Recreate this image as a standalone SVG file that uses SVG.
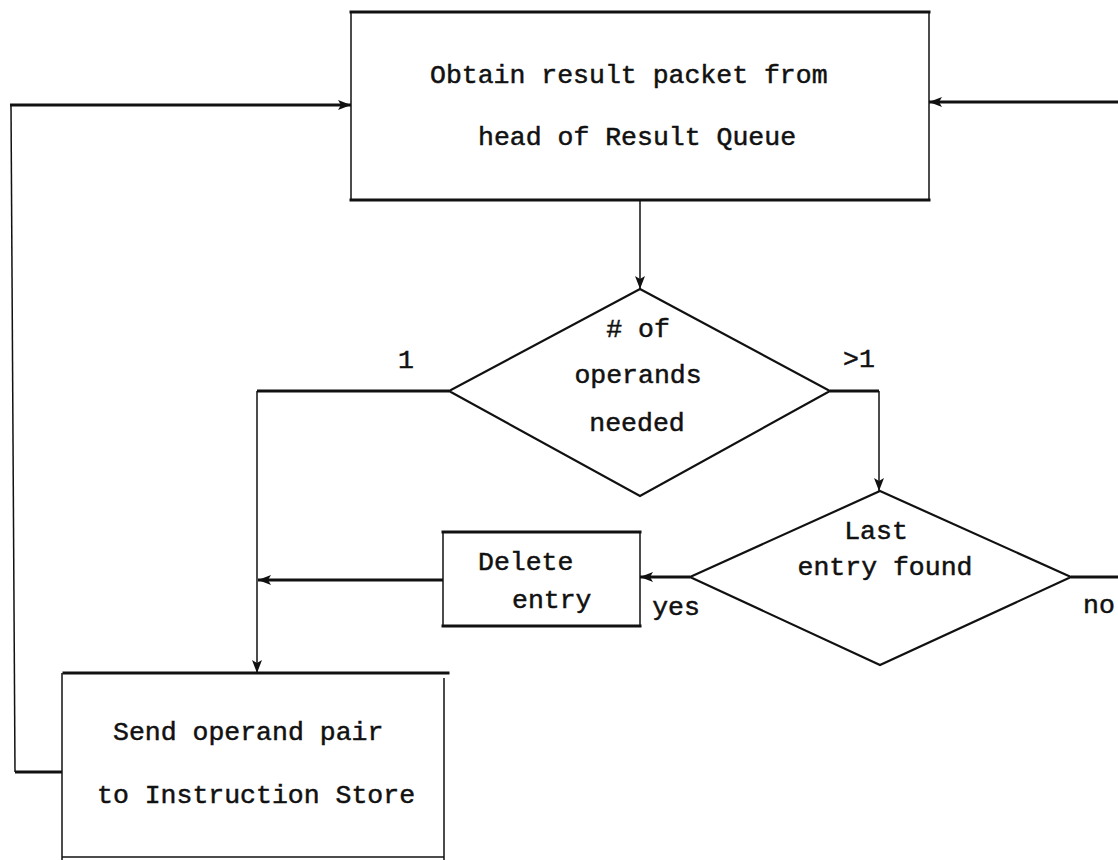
<svg xmlns="http://www.w3.org/2000/svg" width="1118" height="860" viewBox="0 0 1118 860">
  <style>
    .bg { fill: #ffffff; }
    .edge-h { stroke: #111; stroke-width: 3; fill: none; stroke-linecap: square; }
    .edge-v { stroke: #111; stroke-width: 1.5; fill: none; }
    .diamond { stroke: #111; stroke-width: 2.2; fill: none; stroke-linejoin: miter; }
    .wire-h { stroke: #111; stroke-width: 3; fill: none; }
    .wire-v { stroke: #111; stroke-width: 1.5; fill: none; }
    .txt { font-family: "Liberation Mono", "DejaVu Sans Mono", monospace; font-size: 26.5px; fill: #111; stroke: #111; stroke-width: 0.5; }
  </style>
  <defs>
    <marker id="head" markerUnits="userSpaceOnUse" markerWidth="14" markerHeight="10" refX="13" refY="5" orient="auto">
      <path d="M0,0 L13,5 L0,10 L3,5 z" fill="#111"/>
    </marker>
  </defs>

  <rect class="bg" x="0" y="0" width="1118" height="860"/>

  <!-- Obtain result packet -->
  <g id="obtain">
    <line class="edge-h" x1="351" y1="12" x2="929" y2="12"/>
    <line class="edge-h" x1="351" y1="200" x2="929" y2="200"/>
    <line class="edge-v" x1="351" y1="12" x2="351" y2="200"/>
    <line class="edge-v" x1="929" y1="12" x2="929" y2="200"/>
    <text class="txt" x="430" y="83">Obtain result packet from</text>
    <text class="txt" x="478" y="145">head of Result Queue</text>
  </g>

  <!-- # of operands needed -->
  <g id="operands">
    <polygon class="diamond" points="640,289 830,391 640,496 449,391"/>
    <text class="txt" x="638" y="337" text-anchor="middle"># of</text>
    <text class="txt" x="638" y="383" text-anchor="middle">operands</text>
    <text class="txt" x="637" y="431" text-anchor="middle">needed</text>
  </g>

  <!-- Last entry found -->
  <g id="last-entry">
    <polygon class="diamond" points="880,491 1071,577 880,665 690,577"/>
    <text class="txt" x="876" y="539" text-anchor="middle">Last</text>
    <text class="txt" x="885" y="575" text-anchor="middle">entry found</text>
  </g>

  <!-- Delete entry -->
  <g id="delete">
    <line class="edge-h" x1="443" y1="532" x2="640" y2="532"/>
    <line class="edge-h" x1="443" y1="626" x2="640" y2="626"/>
    <line class="edge-v" x1="443" y1="532" x2="443" y2="626"/>
    <line class="edge-v" x1="640" y1="532" x2="640" y2="626"/>
    <text class="txt" x="478" y="570">Delete</text>
    <text class="txt" x="512" y="608">entry</text>
  </g>

  <!-- Send operand pair -->
  <g id="send">
    <line class="edge-h" x1="64" y1="673" x2="448" y2="673"/>
    <line class="edge-v" x1="62" y1="857" x2="444" y2="857"/>
    <line class="edge-v" x1="62" y1="673" x2="62" y2="860"/>
    <line class="edge-v" x1="444" y1="678" x2="444" y2="860"/>
    <text class="txt" x="113" y="740">Send operand pair</text>
    <text class="txt" x="97" y="803">to Instruction Store</text>
  </g>

  <!-- Connectors -->
  <g id="connectors">
    <!-- feedback loop from Send back to Obtain -->
    <polyline class="wire-h" points="62,772 15,772"/>
    <line class="wire-v" x1="15" y1="772" x2="11" y2="105"/>
    <line class="wire-h" x1="10" y1="105" x2="351" y2="105" marker-end="url(#head)"/>
    <!-- entry from the right -->
    <line class="wire-h" x1="1118" y1="102" x2="929" y2="102" marker-end="url(#head)"/>
    <!-- Obtain to decision -->
    <line class="wire-v" x1="640" y1="200" x2="640" y2="289" marker-end="url(#head)"/>
    <!-- branch 1 -->
    <line class="wire-h" x1="449" y1="391" x2="257" y2="391"/>
    <line class="wire-v" x1="257" y1="391" x2="257" y2="673" marker-end="url(#head)"/>
    <!-- branch >1 -->
    <line class="wire-h" x1="830" y1="391" x2="879" y2="391"/>
    <line class="wire-v" x1="879" y1="391" x2="879" y2="491" marker-end="url(#head)"/>
    <!-- yes to Delete -->
    <line class="wire-h" x1="690" y1="577" x2="640" y2="577" marker-end="url(#head)"/>
    <!-- Delete to the 1-branch -->
    <line class="wire-h" x1="443" y1="580" x2="258" y2="580" marker-end="url(#head)"/>
    <!-- no -->
    <line class="wire-h" x1="1071" y1="577" x2="1118" y2="577"/>
    <!-- branch labels -->
    <text class="txt" x="406" y="368" text-anchor="middle">1</text>
    <text class="txt" x="859" y="367" text-anchor="middle">&gt;1</text>
    <text class="txt" x="676" y="615" text-anchor="middle">yes</text>
    <text class="txt" x="1099" y="613" text-anchor="middle">no</text>
  </g>
</svg>
